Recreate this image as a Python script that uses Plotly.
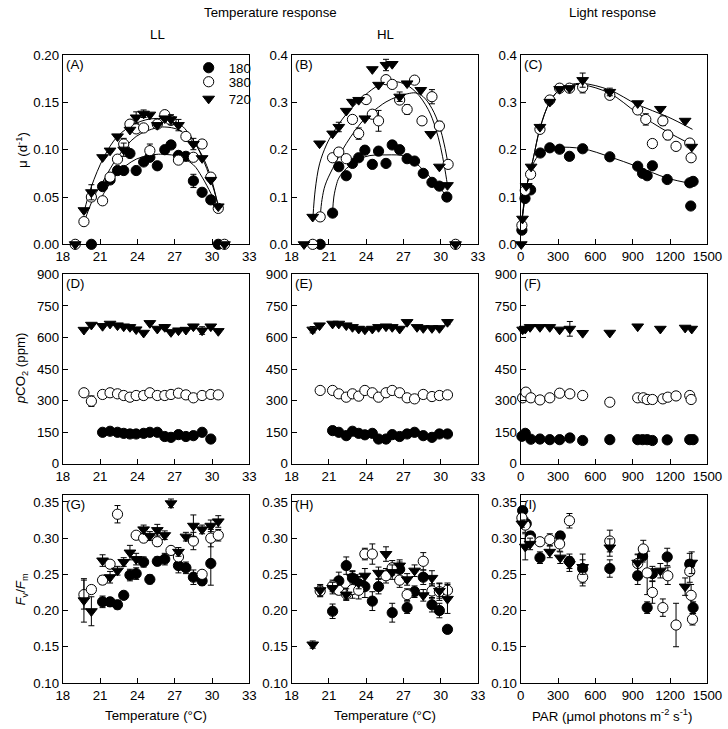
import plotly.graph_objects as go
from plotly.subplots import make_subplots

# ---------------- Panel A (LL, temperature) ----------------
A_T180 = [20.3, 21.2, 21.8, 22.4, 22.9, 23.4, 23.9, 24.5, 25.0, 25.6, 26.2, 26.7, 27.3, 27.9, 28.5, 29.2, 29.9, 30.5]
A_mu180 = [0.000, 0.061, 0.068, 0.078, 0.078, 0.096, 0.078, 0.087, 0.092, 0.083, 0.100, 0.105, 0.094, 0.093, 0.067, 0.055, 0.047, 0.000]
A_e180 = [0, 0, 0, 0, 0, 0, 0, 0, 0, 0, 0, 0, 0, 0, 0.007, 0, 0, 0]
A_T380 = [19.0, 19.7, 20.3, 21.2, 21.8, 22.4, 22.9, 23.4, 23.9, 24.5, 25.0, 25.6, 26.2, 26.7, 27.3, 27.9, 28.5, 29.2, 29.9, 30.5, 31.0]
A_mu380 = [0.000, 0.024, 0.050, 0.046, 0.071, 0.090, 0.106, 0.127, 0.122, 0.123, 0.099, 0.127, 0.137, 0.131, 0.089, 0.114, 0.092, 0.106, 0.071, 0.038, 0.000]
A_e380 = [0, 0, 0.003, 0, 0, 0, 0.006, 0, 0, 0, 0.007, 0, 0, 0, 0, 0, 0, 0, 0.004, 0, 0]
A_T720 = [19.0, 19.7, 20.3, 21.2, 21.8, 22.4, 22.9, 23.4, 23.9, 24.5, 25.0, 25.6, 26.2, 26.7, 27.3, 28.5, 29.2, 29.9, 30.5, 31.0]
A_mu720 = [0.000, 0.036, 0.055, 0.092, 0.099, 0.114, 0.100, 0.121, 0.134, 0.138, 0.137, 0.126, 0.133, 0.132, 0.126, 0.106, 0.091, 0.068, 0.040, 0.000]
A_e720 = [0, 0, 0.008, 0, 0, 0, 0.007, 0, 0.006, 0.004, 0, 0, 0, 0.005, 0.006, 0.006, 0, 0, 0, 0]
A_fitT720 = [19.7, 20.3, 21.3, 22.4, 23.9, 25.5, 27.3, 28.5, 29.2, 29.9, 30.5]
A_fit720 = [0.034, 0.061, 0.092, 0.114, 0.128, 0.133, 0.128, 0.110, 0.092, 0.068, 0.041]
A_fitT380 = [19.7, 20.5, 21.3, 22.4, 23.9, 25.5, 26.2, 27.3, 28.5, 29.2, 29.9, 30.5]
A_fit380 = [0.023, 0.050, 0.068, 0.092, 0.114, 0.123, 0.124, 0.121, 0.108, 0.094, 0.071, 0.040]
A_fitT180 = [20.9, 21.3, 22.4, 23.9, 25.5, 26.2, 27.3, 28.5, 29.2, 29.9, 30.3]
A_fit180 = [0.043, 0.054, 0.075, 0.090, 0.095, 0.095, 0.093, 0.084, 0.071, 0.054, 0.043]

# ---------------- Panel B (HL, temperature) ----------------
B_T180 = [20.3, 21.3, 21.8, 22.4, 22.9, 23.4, 23.9, 24.5, 25.0, 25.6, 26.1, 26.7, 27.3, 27.9, 28.6, 29.3, 29.9, 30.5]
B_mu180 = [0.000, 0.066, 0.164, 0.145, 0.171, 0.183, 0.199, 0.169, 0.197, 0.171, 0.210, 0.200, 0.181, 0.176, 0.150, 0.131, 0.123, 0.100]
B_e180 = [0] * 18
B_T380 = [19.7, 20.3, 21.3, 21.8, 22.4, 22.9, 23.4, 24.0, 24.5, 25.0, 25.6, 26.1, 26.7, 27.3, 27.9, 28.5, 29.3, 29.9, 30.6, 31.2]
B_mu380 = [0.000, 0.058, 0.183, 0.195, 0.181, 0.264, 0.234, 0.306, 0.275, 0.261, 0.348, 0.338, 0.305, 0.285, 0.347, 0.261, 0.312, 0.250, 0.169, 0.000]
B_e380 = [0, 0, 0, 0, 0, 0, 0.012, 0, 0.008, 0.022, 0.008, 0, 0, 0.01, 0, 0, 0.015, 0.01, 0, 0]
B_T720 = [19.0, 19.7, 20.25, 21.3, 21.8, 22.4, 22.9, 23.4, 23.9, 24.5, 25.0, 25.6, 26.1, 26.7, 27.3, 28.4, 29.2, 29.9, 30.55, 31.2]
B_mu720 = [0.000, 0.058, 0.213, 0.234, 0.248, 0.282, 0.301, 0.305, 0.266, 0.370, 0.337, 0.379, 0.381, 0.312, 0.340, 0.326, 0.233, 0.164, 0.125, 0.000]
B_e720 = [0, 0, 0, 0, 0.01, 0, 0, 0, 0, 0, 0, 0.012, 0, 0.01, 0, 0, 0, 0, 0, 0]
B_fitT720 = [19.72, 19.9, 20.25, 20.8, 21.3, 22.4, 23.9, 25.0, 26.0, 27.0, 28.0, 29.0, 29.6, 30.0, 30.3, 30.55]
B_fit720 = [0.058, 0.115, 0.170, 0.210, 0.234, 0.275, 0.315, 0.336, 0.344, 0.340, 0.322, 0.285, 0.245, 0.205, 0.165, 0.125]
B_fitT380 = [20.3, 20.45, 20.7, 21.3, 22.4, 23.9, 25.0, 25.6, 26.5, 27.3, 28.0, 28.6, 29.3, 29.9, 30.3, 30.6]
B_fit380 = [0.058, 0.095, 0.125, 0.160, 0.213, 0.266, 0.290, 0.301, 0.312, 0.318, 0.320, 0.312, 0.287, 0.250, 0.210, 0.169]
B_fitT180 = [21.3, 21.4, 21.6, 21.8, 22.4, 23.9, 25.6, 27.3, 28.6, 29.3, 29.9, 30.5]
B_fit180 = [0.068, 0.100, 0.125, 0.140, 0.160, 0.185, 0.189, 0.185, 0.157, 0.138, 0.121, 0.100]

# ---------------- Panel C (light response) ----------------
C_P180 = [10, 35, 80, 158, 234, 313, 392, 498, 716, 940, 979, 1016, 1058, 1177, 1358, 1366, 1385]
C_mu180 = [0.030, 0.097, 0.115, 0.193, 0.204, 0.201, 0.186, 0.202, 0.185, 0.165, 0.150, 0.145, 0.166, 0.137, 0.130, 0.081, 0.133]
C_e180 = [0] * 17
C_P380 = [10, 37, 80, 155, 234, 313, 392, 498, 716, 940, 1005, 1058, 1142, 1182, 1248, 1358, 1369]
C_mu380 = [0.040, 0.114, 0.148, 0.243, 0.305, 0.330, 0.330, 0.332, 0.315, 0.284, 0.264, 0.213, 0.261, 0.231, 0.207, 0.214, 0.183]
C_e380 = [0, 0, 0, 0, 0, 0, 0, 0.012, 0.008, 0, 0.012, 0, 0.01, 0.01, 0.008, 0, 0]
C_P720 = [5, 15, 45, 84, 155, 234, 313, 392, 498, 716, 940, 1122, 1321, 1374]
C_mu720 = [0.000, 0.054, 0.123, 0.164, 0.248, 0.301, 0.328, 0.330, 0.347, 0.322, 0.298, 0.286, 0.261, 0.206]
C_e720 = [0, 0, 0, 0, 0, 0, 0, 0, 0.015, 0.008, 0, 0, 0, 0]
C_fitP180 = [0, 20, 50, 100, 150, 200, 300, 500, 716, 940, 1177, 1380]
C_fit180 = [0.020, 0.075, 0.125, 0.170, 0.190, 0.200, 0.205, 0.202, 0.185, 0.164, 0.140, 0.128]
C_fitP380 = [0, 20, 50, 100, 155, 234, 313, 392, 500, 716, 940, 1177, 1380]
C_fit380 = [0.020, 0.070, 0.125, 0.180, 0.245, 0.301, 0.327, 0.336, 0.337, 0.319, 0.277, 0.238, 0.210]
C_fitP720 = [0, 20, 50, 100, 155, 234, 313, 392, 500, 716, 940, 1177, 1380]
C_fit720 = [0.020, 0.070, 0.125, 0.180, 0.245, 0.301, 0.327, 0.337, 0.340, 0.326, 0.295, 0.270, 0.243]

# ---------------- Panel D (LL pCO2) ----------------
D_T720 = [19.7, 20.3, 21.2, 21.8, 22.4, 22.9, 23.4, 23.9, 24.5, 25.0, 25.6, 26.2, 26.7, 27.3, 27.9, 28.5, 29.2, 29.9, 30.5]
D_p720 = [636, 660, 654, 665, 657, 652, 649, 638, 622, 668, 641, 649, 625, 633, 636, 652, 633, 652, 630]
D_e720 = [0, 0, 0, 0, 0, 0, 0, 0, 0, 0, 0, 12, 0, 0, 0, 10, 18, 0, 0]
D_T380 = [19.7, 20.3, 21.2, 21.8, 22.4, 22.9, 23.4, 23.9, 24.5, 25.0, 25.6, 26.2, 26.7, 27.3, 27.9, 28.5, 29.2, 29.9, 30.5]
D_p380 = [337, 297, 329, 337, 332, 324, 316, 324, 324, 337, 324, 324, 329, 335, 327, 313, 324, 329, 327]
D_e380 = [0, 25, 0, 0, 0, 0, 0, 0, 0, 0, 0, 0, 0, 0, 0, 10, 0, 0, 0]
D_T180 = [21.2, 21.8, 22.4, 22.9, 23.4, 23.9, 24.5, 25.0, 25.6, 26.2, 26.7, 27.3, 27.9, 28.5, 29.2, 29.9]
D_p180 = [149, 154, 149, 144, 141, 141, 144, 149, 149, 129, 125, 138, 129, 133, 149, 117]
D_e180 = [0] * 16

# ---------------- Panel E (HL pCO2) ----------------
E_T720 = [19.7, 20.25, 21.3, 21.8, 22.4, 22.9, 23.4, 23.9, 24.5, 25.0, 25.6, 26.1, 26.7, 27.3, 28.1, 28.6, 29.3, 29.9, 30.55]
E_p720 = [637, 657, 665, 665, 657, 649, 641, 637, 641, 649, 652, 649, 641, 673, 649, 644, 644, 644, 673]
E_e720 = [15, 0, 0, 0, 0, 0, 0, 0, 0, 0, 0, 0, 0, 0, 0, 0, 0, 0, 12]
E_T380 = [20.3, 21.3, 21.8, 22.4, 22.9, 23.4, 23.9, 24.5, 25.0, 25.6, 26.1, 26.7, 27.3, 27.9, 28.6, 29.3, 29.9, 30.55]
E_p380 = [348, 348, 332, 316, 332, 321, 348, 337, 316, 337, 348, 337, 313, 308, 329, 319, 324, 327]
E_e380 = [0] * 18
E_T180 = [21.3, 21.8, 22.4, 22.9, 23.4, 23.9, 24.5, 25.0, 25.6, 26.1, 26.7, 27.3, 27.9, 28.6, 29.3, 29.9, 30.55]
E_p180 = [157, 149, 133, 154, 144, 137, 144, 117, 117, 138, 129, 141, 149, 133, 125, 141, 141]
E_e180 = [0] * 17

# ---------------- Panel F (light pCO2) ----------------
F_P720 = [16, 37, 76, 155, 234, 313, 395, 498, 716, 940, 1122, 1321, 1374]
F_p720 = [637, 641, 649, 649, 649, 637, 641, 621, 622, 652, 641, 646, 641]
F_e720 = [10, 0, 0, 0, 0, 0, 35, 0, 0, 0, 0, 0, 0]
F_P380 = [16, 42, 82, 155, 234, 313, 395, 498, 716, 940, 985, 1016, 1058, 1142, 1182, 1248, 1358, 1369]
F_p380 = [313, 340, 313, 303, 313, 335, 332, 324, 292, 313, 313, 305, 305, 308, 316, 322, 324, 305]
F_e380 = [0, 0, 0, 0, 0, 0, 15, 0, 0, 0, 0, 0, 0, 0, 0, 0, 0, 0]
F_P180 = [10, 37, 82, 155, 234, 313, 395, 498, 716, 940, 979, 1016, 1058, 1177, 1358, 1385]
F_p180 = [130, 144, 116, 117, 114, 114, 122, 110, 114, 114, 114, 114, 110, 113, 114, 114]
F_e180 = [0] * 16

# ---------------- Panel G (LL Fv/Fm) ----------------
G_T180 = [21.2, 21.8, 22.4, 22.9, 23.4, 23.9, 24.5, 25.0, 25.6, 26.2, 27.3, 27.9, 28.5, 29.2, 29.9]
G_F180 = [0.212, 0.212, 0.208, 0.221, 0.249, 0.251, 0.267, 0.243, 0.268, 0.271, 0.262, 0.259, 0.246, 0.241, 0.265]
G_e180 = [0.008, 0.006, 0.006, 0.004, 0.008, 0.008, 0.007, 0.006, 0.006, 0.008, 0.010, 0.008, 0.010, 0.006, 0.030]
G_T380 = [19.7, 20.3, 21.2, 21.8, 22.4, 23.9, 24.5, 25.6, 26.7, 27.3, 28.5, 29.2, 29.9, 30.5]
G_F380 = [0.222, 0.229, 0.242, 0.264, 0.333, 0.304, 0.300, 0.295, 0.283, 0.274, 0.296, 0.250, 0.300, 0.304]
G_e380 = [0.020, 0.004, 0.006, 0.005, 0.012, 0.005, 0.005, 0.006, 0.005, 0.005, 0.012, 0.005, 0.012, 0.008]
G_T720 = [19.7, 20.3, 21.2, 21.8, 22.4, 22.9, 23.4, 23.9, 24.5, 25.0, 25.6, 26.2, 26.7, 27.3, 27.9, 28.5, 29.2, 29.9, 30.5]
G_F720 = [0.214, 0.199, 0.269, 0.246, 0.255, 0.267, 0.280, 0.271, 0.312, 0.303, 0.311, 0.304, 0.348, 0.281, 0.302, 0.317, 0.312, 0.317, 0.323]
G_e720 = [0.030, 0.020, 0.008, 0.008, 0.006, 0.006, 0.010, 0.008, 0.006, 0.006, 0.008, 0.006, 0.006, 0.006, 0.006, 0.015, 0.006, 0.008, 0.008]

# ---------------- Panel H (HL Fv/Fm) ----------------
H_T720 = [19.7, 20.3, 21.3, 22.4, 22.9, 23.4, 23.9, 25.0, 25.6, 26.1, 26.7, 27.3, 27.9, 28.6, 29.3, 29.9, 30.55]
H_F720 = [0.153, 0.228, 0.231, 0.222, 0.246, 0.238, 0.248, 0.252, 0.278, 0.253, 0.262, 0.243, 0.255, 0.221, 0.245, 0.227, 0.216]
H_e720 = [0.005, 0.008, 0.008, 0.008, 0.008, 0.008, 0.010, 0.008, 0.010, 0.010, 0.008, 0.008, 0.008, 0.008, 0.010, 0.010, 0.020]
H_T380 = [20.3, 21.3, 21.8, 22.4, 22.9, 23.4, 23.9, 24.5, 25.6, 26.1, 26.7, 27.3, 28.6, 29.3, 29.9, 30.55]
H_F380 = [0.227, 0.234, 0.228, 0.223, 0.229, 0.228, 0.278, 0.278, 0.248, 0.259, 0.242, 0.222, 0.268, 0.227, 0.226, 0.228]
H_e380 = [0.008, 0.008, 0.006, 0.008, 0.012, 0.012, 0.008, 0.014, 0.010, 0.010, 0.010, 0.008, 0.012, 0.010, 0.012, 0.010]
H_T180 = [21.3, 21.8, 22.4, 22.9, 23.4, 23.9, 24.5, 25.0, 26.1, 26.7, 27.3, 27.9, 28.6, 29.3, 29.9, 30.55]
H_F180 = [0.199, 0.241, 0.262, 0.245, 0.237, 0.233, 0.213, 0.233, 0.197, 0.257, 0.204, 0.226, 0.246, 0.208, 0.200, 0.174]
H_e180 = [0.010, 0.012, 0.012, 0.010, 0.010, 0.015, 0.013, 0.010, 0.013, 0.010, 0.008, 0.008, 0.010, 0.010, 0.010, 0.005]

# ---------------- Panel I (light Fv/Fm) ----------------
I_P180 = [16, 45, 79, 155, 318, 392, 498, 716, 940, 979, 1016, 1058, 1177, 1358, 1385]
I_F180 = [0.338, 0.320, 0.303, 0.273, 0.303, 0.268, 0.258, 0.258, 0.248, 0.275, 0.204, 0.251, 0.274, 0.264, 0.204]
I_e180 = [0.005, 0.005, 0.006, 0.008, 0.006, 0.010, 0.020, 0.012, 0.012, 0.008, 0.008, 0.010, 0.012, 0.015, 0.008]
I_P380 = [10, 37, 76, 155, 234, 313, 392, 498, 716, 940, 985, 1016, 1058, 1142, 1182, 1248, 1358, 1369, 1380]
I_F380 = [0.328, 0.318, 0.298, 0.295, 0.298, 0.292, 0.324, 0.246, 0.296, 0.265, 0.285, 0.252, 0.225, 0.204, 0.248, 0.180, 0.254, 0.221, 0.188]
I_e380 = [0.006, 0.010, 0.008, 0.004, 0.008, 0.010, 0.010, 0.012, 0.015, 0.012, 0.012, 0.030, 0.015, 0.012, 0.012, 0.030, 0.015, 0.015, 0.008]
I_P720 = [10, 37, 76, 234, 318, 392, 498, 716, 940, 1122, 1321, 1374]
I_F720 = [0.320, 0.288, 0.292, 0.281, 0.273, 0.264, 0.260, 0.287, 0.266, 0.255, 0.233, 0.266]
I_e720 = [0.005, 0.018, 0.008, 0.008, 0.008, 0.010, 0.010, 0.012, 0.012, 0.010, 0.012, 0.015]

CO2_LEVELS = [180, 380, 720]
SERIES_NAMES = ["180", "380", "720"]
PANEL_LABELS = ["(A)", "(B)", "(C)", "(D)", "(E)", "(F)", "(G)", "(H)", "(I)"]
TEMP_TICKS = [18, 21, 24, 27, 30, 33]
PAR_TICKS = [0, 300, 600, 900, 1200, 1500]

FONT = "Liberation Sans, Arial, sans-serif"
W, H = 744, 745
# the photographed page appears shifted and scaled by ~0.98; compensate
SX, OX = 0.983, 5.0
SY, OY = 0.9785, 7.0
FS = 13 / SY
MS = 10 / SY

def fx(t):
    return ((t - OX) / SX) / W

def fy(t):
    return 1 - ((t - OY) / SY) / H

fig = make_subplots(rows=3, cols=3)

STY = {
    "180": dict(symbol="circle", color="black", size=MS, line=dict(color="black", width=1)),
    "380": dict(symbol="circle", color="white", size=MS, line=dict(color="black", width=1)),
    "720": dict(symbol="triangle-down", color="black", size=MS, line=dict(color="black", width=1)),
}
LEG = {"180": "legend", "380": "legend2", "720": "legend3"}

def add_fit(x, y, r, c):
    fig.add_trace(go.Scatter(x=x, y=y, mode="lines", line=dict(color="black", width=1, shape="spline", smoothing=1.0),
                             showlegend=False, hoverinfo="skip"), row=r, col=c)

def add_pts(x, y, e, name, r, c, legend=False):
    fig.add_trace(go.Scatter(x=x, y=y, mode="markers", name=name, marker=STY[name],
                             error_y=dict(type="data", array=e, color="black", thickness=1, width=3),
                             cliponaxis=False, showlegend=legend, legend=LEG[name]), row=r, col=c)

# fitted curves (panels A-C)
add_fit(A_fitT180, A_fit180, 1, 1); add_fit(A_fitT380, A_fit380, 1, 1); add_fit(A_fitT720, A_fit720, 1, 1)
add_fit(B_fitT180, B_fit180, 1, 2); add_fit(B_fitT380, B_fit380, 1, 2); add_fit(B_fitT720, B_fit720, 1, 2)
add_fit(C_fitP180, C_fit180, 1, 3); add_fit(C_fitP380, C_fit380, 1, 3); add_fit(C_fitP720, C_fit720, 1, 3)

panels = [
    (1, 1, [(A_T180, A_mu180, A_e180), (A_T380, A_mu380, A_e380), (A_T720, A_mu720, A_e720)]),
    (1, 2, [(B_T180, B_mu180, B_e180), (B_T380, B_mu380, B_e380), (B_T720, B_mu720, B_e720)]),
    (1, 3, [(C_P180, C_mu180, C_e180), (C_P380, C_mu380, C_e380), (C_P720, C_mu720, C_e720)]),
    (2, 1, [(D_T180, D_p180, D_e180), (D_T380, D_p380, D_e380), (D_T720, D_p720, D_e720)]),
    (2, 2, [(E_T180, E_p180, E_e180), (E_T380, E_p380, E_e380), (E_T720, E_p720, E_e720)]),
    (2, 3, [(F_P180, F_p180, F_e180), (F_P380, F_p380, F_e380), (F_P720, F_p720, F_e720)]),
    (3, 1, [(G_T180, G_F180, G_e180), (G_T380, G_F380, G_e380), (G_T720, G_F720, G_e720)]),
    (3, 2, [(H_T180, H_F180, H_e180), (H_T380, H_F380, H_e380), (H_T720, H_F720, H_e720)]),
    (3, 3, [(I_P180, I_F180, I_e180), (I_P380, I_F380, I_e380), (I_P720, I_F720, I_e720)]),
]

# dashed reference lines at the pCO2 target levels
for c in (1, 2, 3):
    for lvl in CO2_LEVELS:
        fig.add_hline(y=lvl, line=dict(color="black", width=1, dash="11px,6px"), row=2, col=c)

for r, c, ser in panels:
    for (x, y, e), nm in zip(ser, SERIES_NAMES):
        add_pts(x, y, e, nm, r, c, legend=(r == 1 and c == 1))

# domains from the reference's pixel edges
XD = [[fx(61.5), fx(250.5)], [fx(293.3), fx(482)], [fx(525.3), fx(714.5)]]
YD = [[fy(244), fy(55)], [fy(463), fy(274)], [fy(682), fy(494)]]
YR = [[0, 0.2], [0, 900], [0.10, 0.36]]
YT = [[0, 0.05, 0.10, 0.15, 0.20], [0, 150, 300, 450, 600, 750, 900], [0.10, 0.15, 0.20, 0.25, 0.30, 0.35]]

axis_common = dict(showline=True, linecolor="black", linewidth=1, mirror=True, ticks="inside", ticklen=5,
                   tickcolor="black", tickwidth=1, showgrid=False, zeroline=False, ticklabeloverflow="allow",
                   tickfont=dict(family=FONT, size=FS, color="black"))
for r in range(3):
    for c in range(3):
        idx = r * 3 + c + 1
        xa = "xaxis" if idx == 1 else f"xaxis{idx}"
        ya = "yaxis" if idx == 1 else f"yaxis{idx}"
        if c < 2:
            xr, xt = [18, 33], TEMP_TICKS
        else:
            xr, xt = [0, 1500], PAR_TICKS
        yr, yt = YR[r], YT[r]
        if r == 0 and c > 0:
            yr, yt = [0, 0.4], [0, 0.1, 0.2, 0.3, 0.4]
        if r == 0 and c == 0:
            fmt = ".2f"
        elif r == 0:
            fmt = ".1f"
        elif r == 1:
            fmt = "d"
        else:
            fmt = ".2f"
        fig.layout[xa].update(domain=XD[c], range=xr, tickvals=xt, **axis_common)
        fig.layout[ya].update(domain=YD[r], range=yr, tickvals=yt, tickformat=fmt, **axis_common)
        fig.add_annotation(text=PANEL_LABELS[idx - 1], xref=f"{xa.replace('axis','')} domain",
                           yref=f"{ya.replace('axis','')} domain",
                           x=0.005, y=1.0, xanchor="left", yanchor="top", showarrow=False,
                           font=dict(family=FONT, size=FS, color="black"))

def txt(t, x, y, angle=0):
    fig.add_annotation(text=t, xref="paper", yref="paper", x=fx(x), y=fy(y), showarrow=False,
                       textangle=angle, xanchor="center", yanchor="middle",
                       font=dict(family=FONT, size=FS, color="black"))

txt("Temperature response", 272, 12.5)
txt("Light response", 618, 12.5)
txt("LL", 157, 34)
txt("HL", 388, 34)
txt("μ (d<sup>-1</sup>)", 20, 150, angle=-90)
txt("<i>p</i>CO<sub>2</sub> (ppm)", 20, 368, angle=-90)
txt("<i>F</i><sub>v</sub>/<i>F</i><sub>m</sub>", 20, 588, angle=-90)
txt("Temperature (°C)", 156, 715)
txt("Temperature (°C)", 388, 715)
txt("PAR (μmol photons m<sup>-2</sup> s<sup>-1</sup>)", 618, 715)

leg_common = dict(xanchor="left", yanchor="middle", bgcolor="rgba(0,0,0,0)",
                  font=dict(family=FONT, size=FS, color="black"), itemwidth=30)
fig.update_layout(
    width=W, height=H, margin=dict(l=0, r=0, t=0, b=0),
    paper_bgcolor="white", plot_bgcolor="white",
    font=dict(family=FONT, size=FS, color="black"),
    legend=dict(x=fx(189), y=fy(68), **leg_common),
    legend2=dict(x=fx(189), y=fy(82), **leg_common),
    legend3=dict(x=fx(189), y=fy(99), **leg_common),
)

fig.write_html(
    "out.html",
    config={"displayModeBar": False},
    post_script="document.body.style.margin='0';document.body.style.overflow='hidden';"
                "document.documentElement.style.overflow='hidden';",
)
